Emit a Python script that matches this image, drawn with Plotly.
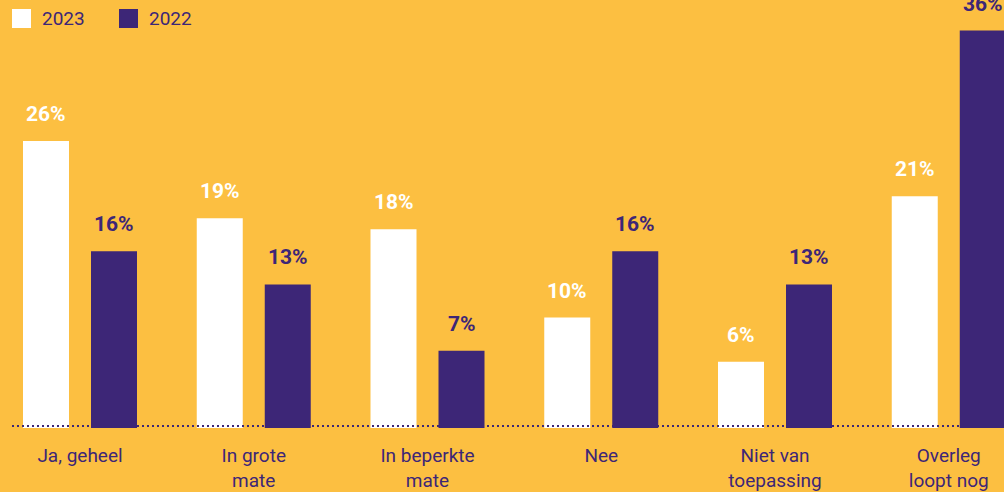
import plotly.graph_objects as go

categories = ["Ja, geheel", "In grote<br>mate", "In beperkte<br>mate", "Nee", "Niet van<br>toepassing", "Overleg<br>loopt nog"]
series_names = ["2023", "2022"]
values_2023 = [26, 19, 18, 10, 6, 21]
values_2022 = [16, 13, 7, 16, 13, 36]

BG = "#FCBF41"
PURPLE = "#3D2677"
WHITE = "#FFFFFF"
FONT = "Roboto"

bargap = 0.2173
bargroupgap = 0.3235
slot = 1 - bargap
offset = slot / 4

x = list(range(len(categories)))

fig = go.Figure()
fig.add_trace(go.Bar(x=x, y=values_2023, name=series_names[0], marker=dict(color=WHITE, line=dict(width=0)), showlegend=False))
fig.add_trace(go.Bar(x=x, y=values_2022, name=series_names[1], marker=dict(color=PURPLE, line=dict(width=0)), showlegend=False))

annotations = []
for i, v in enumerate(values_2023):
    annotations.append(dict(x=i - offset, y=v, text=f"{v}%", showarrow=False, xref="x", yref="y",
                            yanchor="bottom", yshift=13, font=dict(family=FONT, size=21, color=WHITE, weight="bold")))
for i, v in enumerate(values_2022):
    annotations.append(dict(x=i + offset, y=v, text=f"{v}%", showarrow=False, xref="x", yref="y",
                            yanchor="bottom", yshift=13, font=dict(family=FONT, size=21, color=PURPLE, weight="bold")))

# legend (manual, to match swatch size)
W, H, B = 1004, 492, 64
PH = H - B
def py(pix):
    return (PH - pix) / PH

shapes = []
legend_items = [(series_names[0], WHITE, 12), (series_names[1], PURPLE, 119)]
for name, col, px0 in legend_items:
    shapes.append(dict(type="rect", xref="paper", yref="paper", x0=px0 / W, x1=(px0 + 19) / W,
                       y0=py(28), y1=py(9), fillcolor=col, line=dict(width=0), layer="above"))
    annotations.append(dict(x=(px0 + 28) / W, y=py(18.5), xref="paper", yref="paper", text=name, showarrow=False,
                            xanchor="left", yanchor="middle", font=dict(family=FONT, size=19, color=PURPLE)))

# dotted baseline
shapes.append(dict(type="line", xref="paper", yref="y", x0=12 / W, x1=1, y0=0.18, y1=0.18,
                   line=dict(color=PURPLE, width=2, dash="2px,3px"), layer="above"))

pitch = 173.75
x0 = -80 / pitch
x1 = x0 + W / pitch

fig.update_layout(
    width=W, height=H,
    margin=dict(l=0, r=0, t=0, b=B, pad=0),
    paper_bgcolor=BG, plot_bgcolor=BG,
    barmode="group", bargap=bargap, bargroupgap=bargroupgap,
    annotations=annotations, shapes=shapes,
    xaxis=dict(range=[x0, x1], tickmode="array", tickvals=x, ticktext=categories, showgrid=False,
               zeroline=False, showline=False, ticks="", ticklabelstandoff=14,
               tickfont=dict(family=FONT, size=19, color=PURPLE), fixedrange=True),
    yaxis=dict(range=[0, PH / 11.04], showgrid=False, zeroline=False, showline=False,
               showticklabels=False, ticks="", fixedrange=True),
    showlegend=False,
)
for tr in fig.data:
    tr.cliponaxis = False

fig.write_html("out.html", config=dict(displayModeBar=False))
